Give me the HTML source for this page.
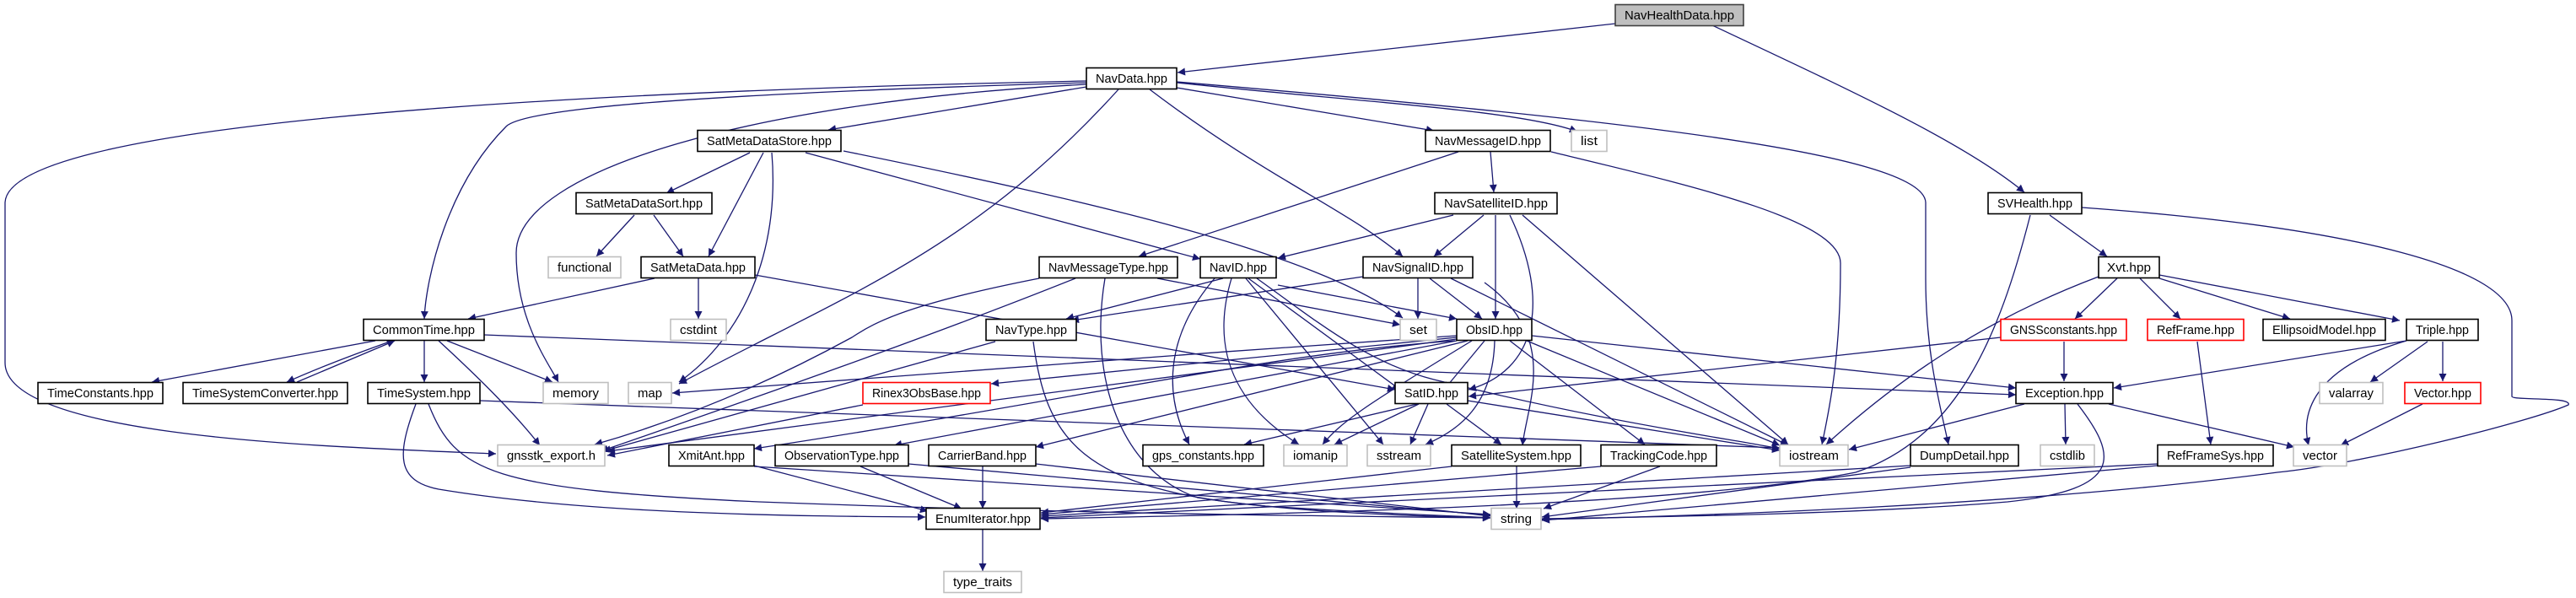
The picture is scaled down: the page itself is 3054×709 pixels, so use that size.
<!DOCTYPE html>
<html><head><meta charset="utf-8"><style>
html,body{margin:0;padding:0;background:#fff;}
svg{display:block;}
.e{fill:none;stroke:#191970;stroke-width:1.3;marker-end:url(#a);}
rect{fill:#fff;stroke:#000;stroke-width:1.6;}
rect.g{stroke:#bfbfbf;}
rect.r{stroke:#ff0000;}
text{font-family:"Liberation Sans",sans-serif;font-size:15px;text-anchor:middle;fill:#000;}
</style></head><body>
<svg width="3054" height="709" viewBox="0 0 3054 709" xmlns="http://www.w3.org/2000/svg">
<defs><marker id="a" viewBox="0 0 10 10" refX="10" refY="5" markerWidth="11" markerHeight="9" markerUnits="userSpaceOnUse" orient="auto"><path d="M0,0 L10,5 L0,10 z" fill="#191970"/></marker></defs>
<g>
<path class="e" d="M1915,28 L1396,86"/>
<path class="e" d="M2030,30 C2200,110 2330,170 2400,228"/>
<path class="e" d="M1288,96 C600,110 10,150 6,240 L6,430 C6,520 400,530 588,538"/>
<path class="e" d="M1288,98 C800,112 620,130 600,150 C530,220 505,330 503,378"/>
<path class="e" d="M1288,100 C900,120 612,200 612,300 C612,380 650,430 662,453"/>
<path class="e" d="M1288,103 L982,154"/>
<path class="e" d="M1326,106 C1150,300 1000,350 805,455"/>
<path class="e" d="M1363,106 C1500,210 1600,250 1663,304"/>
<path class="e" d="M1395,104 L1700,155"/>
<path class="e" d="M1395,98 C1600,120 1800,130 1870,156"/>
<path class="e" d="M1395,97 C1900,140 2280,180 2283,240 L2283,330 C2283,420 2300,480 2310,527"/>
<path class="e" d="M1839,180 C2000,219 2182,260 2182,312 C2182,420 2170,480 2160,527"/>
<path class="e" d="M889,181 L790,229"/>
<path class="e" d="M905,181 L840,304"/>
<path class="e" d="M915,181 C925,300 880,400 805,453"/>
<path class="e" d="M955,181 L1423,307"/>
<path class="e" d="M1000,179 C1300,240 1560,300 1663,377"/>
<path class="e" d="M752,255 L707,304"/>
<path class="e" d="M775,255 L810,304"/>
<path class="e" d="M776,330 L555,378"/>
<path class="e" d="M828,330 L828,378"/>
<path class="e" d="M895,326 L1654,462"/>
<path class="e" d="M445,404 L180,453"/>
<path class="e" d="M465,404 C420,420 380,435 340,453"/>
<path class="e" d="M352,453 L468,404"/>
<path class="e" d="M503,404 L503,453"/>
<path class="e" d="M530,404 L655,453"/>
<path class="e" d="M520,404 C570,450 610,490 640,528"/>
<path class="e" d="M574,397 L2390,468"/>
<path class="e" d="M493,479 C470,540 470,570 520,580 C700,610 950,612 1097,613"/>
<path class="e" d="M508,479 C540,560 580,580 900,595 C1300,610 1600,612 1767,614"/>
<path class="e" d="M569,475 L2110,531"/>
<path class="e" d="M1767,180 L1771,228"/>
<path class="e" d="M1729,180 L1350,304"/>
<path class="e" d="M1723,255 L1515,306"/>
<path class="e" d="M1759,255 L1700,304"/>
<path class="e" d="M1773,255 L1773,378"/>
<path class="e" d="M1790,255 C1840,360 1820,440 1741,462"/>
<path class="e" d="M1805,255 L2120,527"/>
<path class="e" d="M1616,328 L1270,380"/>
<path class="e" d="M1681,330 L1681,378"/>
<path class="e" d="M1695,330 L1757,378"/>
<path class="e" d="M1720,330 L2120,528"/>
<path class="e" d="M1760,335 C1850,400 1810,480 1805,528"/>
<path class="e" d="M1232,330 C1080,360 1040,380 1010,400 C900,460 800,500 705,527"/>
<path class="e" d="M1275,330 C1100,400 900,470 712,535"/>
<path class="e" d="M1310,330 C1290,450 1330,560 1420,590 C1550,610 1700,612 1767,614"/>
<path class="e" d="M1372,330 L1660,385"/>
<path class="e" d="M1450,330 L1264,378"/>
<path class="e" d="M1515,338 L1727,378"/>
<path class="e" d="M1480,330 L1660,462"/>
<path class="e" d="M1440,330 C1380,400 1380,470 1410,527"/>
<path class="e" d="M1460,330 C1430,430 1480,490 1540,527"/>
<path class="e" d="M1477,330 L1640,527"/>
<path class="e" d="M1490,330 C1560,380 1620,430 1700,450 C1900,500 2050,520 2110,532"/>
<path class="e" d="M1180,405 L715,535"/>
<path class="e" d="M1225,405 C1240,520 1280,580 1500,600 C1650,610 1740,612 1767,614"/>
<path class="e" d="M1727,400 L1175,455"/>
<path class="e" d="M1760,404 L1712,462"/>
<path class="e" d="M1745,404 C1620,480 1590,500 1568,527"/>
<path class="e" d="M1772,404 C1770,480 1730,510 1690,527"/>
<path class="e" d="M1790,404 L1950,527"/>
<path class="e" d="M1816,398 L2390,460"/>
<path class="e" d="M1810,404 L2110,528"/>
<path class="e" d="M1727,402 L720,535"/>
<path class="e" d="M1727,398 C1400,420 1000,450 797,466"/>
<path class="e" d="M1740,404 L1228,530"/>
<path class="e" d="M1727,404 L1060,528"/>
<path class="e" d="M1725,404 C1500,420 1300,470 894,532"/>
<path class="e" d="M1680,479 L1475,527"/>
<path class="e" d="M1682,479 L1582,527"/>
<path class="e" d="M1693,479 L1672,527"/>
<path class="e" d="M1715,479 L1780,527"/>
<path class="e" d="M1740,475 L2110,534"/>
<path class="e" d="M1023,480 L720,540"/>
<path class="e" d="M894,552 L1100,606"/>
<path class="e" d="M894,553 L1767,610"/>
<path class="e" d="M1020,553 L1140,603"/>
<path class="e" d="M1077,550 L1767,611"/>
<path class="e" d="M1165,553 L1165,603"/>
<path class="e" d="M1228,550 L1767,612"/>
<path class="e" d="M1798,553 L1798,603"/>
<path class="e" d="M1721,553 L1234,608"/>
<path class="e" d="M1968,553 L1830,603"/>
<path class="e" d="M1898,553 L1234,610"/>
<path class="e" d="M1165,628 L1165,677"/>
<path class="e" d="M2265,552 L1234,612"/>
<path class="e" d="M2265,554 L1828,613"/>
<path class="e" d="M2400,479 L2192,533"/>
<path class="e" d="M2448,479 L2449,527"/>
<path class="e" d="M2500,479 L2720,530"/>
<path class="e" d="M2463,479 C2510,540 2520,580 2380,595 C2200,610 1950,613 1828,615"/>
<path class="e" d="M2558,552 L1828,617"/>
<path class="e" d="M2558,550 L1234,614"/>
<path class="e" d="M2430,255 L2498,304"/>
<path class="e" d="M2407,255 C2370,400 2320,520 2200,560 C2000,600 1500,610 1234,615"/>
<path class="e" d="M2468,246 C2800,270 2978,320 2978,380 L2978,470 C2978,475 3050,470 3045,480 C3000,500 2800,550 2700,560 C2400,600 2000,612 1828,616"/>
<path class="e" d="M2510,330 L2460,378"/>
<path class="e" d="M2537,330 L2585,378"/>
<path class="e" d="M2560,330 L2715,378"/>
<path class="e" d="M2560,326 L2845,380"/>
<path class="e" d="M2488,328 C2350,380 2250,450 2165,527"/>
<path class="e" d="M2447,405 L2447,452"/>
<path class="e" d="M2372,400 L1741,470"/>
<path class="e" d="M2605,405 L2621,527"/>
<path class="e" d="M2853,404 L2506,460"/>
<path class="e" d="M2853,404 C2730,440 2730,500 2737,528"/>
<path class="e" d="M2878,405 L2810,453"/>
<path class="e" d="M2896,405 L2896,452"/>
<path class="e" d="M2872,479 L2775,528"/>
</g>
<g>
<rect x="1915" y="5.5" width="152" height="25" style="fill:#bfbfbf;stroke:#404040"/><text x="1991" y="23" textLength="130" lengthAdjust="spacingAndGlyphs">NavHealthData.hpp</text>
<rect x="1288" y="80.5" width="107" height="25"/><text x="1341.5" y="98" textLength="85" lengthAdjust="spacingAndGlyphs">NavData.hpp</text>
<rect x="827" y="154.5" width="170" height="25"/><text x="912" y="172" textLength="148" lengthAdjust="spacingAndGlyphs">SatMetaDataStore.hpp</text>
<rect x="1690" y="154.5" width="148" height="25"/><text x="1764" y="172" textLength="126" lengthAdjust="spacingAndGlyphs">NavMessageID.hpp</text>
<rect class="g" x="1863" y="154.5" width="42" height="25"/><text x="1884" y="172" textLength="20" lengthAdjust="spacingAndGlyphs">list</text>
<rect x="683" y="228.5" width="161" height="25"/><text x="763.5" y="246" textLength="139" lengthAdjust="spacingAndGlyphs">SatMetaDataSort.hpp</text>
<rect x="1701" y="228.5" width="145" height="25"/><text x="1773.5" y="246" textLength="123" lengthAdjust="spacingAndGlyphs">NavSatelliteID.hpp</text>
<rect x="2357" y="228.5" width="111" height="25"/><text x="2412.5" y="246" textLength="89" lengthAdjust="spacingAndGlyphs">SVHealth.hpp</text>
<rect class="g" x="650" y="304.5" width="86" height="25"/><text x="693" y="322" textLength="64" lengthAdjust="spacingAndGlyphs">functional</text>
<rect x="760" y="304.5" width="135" height="25"/><text x="827.5" y="322" textLength="113" lengthAdjust="spacingAndGlyphs">SatMetaData.hpp</text>
<rect x="1232" y="304.5" width="164" height="25"/><text x="1314" y="322" textLength="142" lengthAdjust="spacingAndGlyphs">NavMessageType.hpp</text>
<rect x="1423" y="304.5" width="90" height="25"/><text x="1468" y="322" textLength="68" lengthAdjust="spacingAndGlyphs">NavID.hpp</text>
<rect x="1616" y="304.5" width="130" height="25"/><text x="1681" y="322" textLength="108" lengthAdjust="spacingAndGlyphs">NavSignalID.hpp</text>
<rect x="2488" y="304.5" width="72" height="25"/><text x="2524" y="322" textLength="52" lengthAdjust="spacingAndGlyphs">Xvt.hpp</text>
<rect x="431" y="378.5" width="143" height="25"/><text x="502.5" y="396" textLength="121" lengthAdjust="spacingAndGlyphs">CommonTime.hpp</text>
<rect class="g" x="795" y="378.5" width="66" height="25"/><text x="828" y="396" textLength="44" lengthAdjust="spacingAndGlyphs">cstdint</text>
<rect x="1169" y="378.5" width="107" height="25"/><text x="1222.5" y="396" textLength="85" lengthAdjust="spacingAndGlyphs">NavType.hpp</text>
<rect class="g" x="1660" y="378.5" width="43" height="25"/><text x="1681.5" y="396" textLength="21" lengthAdjust="spacingAndGlyphs">set</text>
<rect x="1727" y="378.5" width="89" height="25"/><text x="1771.5" y="396" textLength="67" lengthAdjust="spacingAndGlyphs">ObsID.hpp</text>
<rect class="r" x="2372" y="378.5" width="149" height="25"/><text x="2446.5" y="396" textLength="127" lengthAdjust="spacingAndGlyphs">GNSSconstants.hpp</text>
<rect class="r" x="2546" y="378.5" width="114" height="25"/><text x="2603" y="396" textLength="92" lengthAdjust="spacingAndGlyphs">RefFrame.hpp</text>
<rect x="2683" y="378.5" width="145" height="25"/><text x="2755.5" y="396" textLength="123" lengthAdjust="spacingAndGlyphs">EllipsoidModel.hpp</text>
<rect x="2853" y="378.5" width="85" height="25"/><text x="2895.5" y="396" textLength="63" lengthAdjust="spacingAndGlyphs">Triple.hpp</text>
<rect x="45" y="453.5" width="148" height="25"/><text x="119" y="471" textLength="126" lengthAdjust="spacingAndGlyphs">TimeConstants.hpp</text>
<rect x="217" y="453.5" width="195" height="25"/><text x="314.5" y="471" textLength="173" lengthAdjust="spacingAndGlyphs">TimeSystemConverter.hpp</text>
<rect x="436" y="453.5" width="133" height="25"/><text x="502.5" y="471" textLength="111" lengthAdjust="spacingAndGlyphs">TimeSystem.hpp</text>
<rect class="g" x="644" y="453.5" width="77" height="25"/><text x="682.5" y="471" textLength="55" lengthAdjust="spacingAndGlyphs">memory</text>
<rect class="g" x="745" y="453.5" width="51" height="25"/><text x="770.5" y="471" textLength="29" lengthAdjust="spacingAndGlyphs">map</text>
<rect class="r" x="1023" y="453.5" width="151" height="25"/><text x="1098.5" y="471" textLength="129" lengthAdjust="spacingAndGlyphs">Rinex3ObsBase.hpp</text>
<rect x="1654" y="453.5" width="86" height="25"/><text x="1697" y="471" textLength="64" lengthAdjust="spacingAndGlyphs">SatID.hpp</text>
<rect x="2390" y="453.5" width="115" height="25"/><text x="2447.5" y="471" textLength="93" lengthAdjust="spacingAndGlyphs">Exception.hpp</text>
<rect class="g" x="2750" y="453.5" width="75" height="25"/><text x="2787.5" y="471" textLength="53" lengthAdjust="spacingAndGlyphs">valarray</text>
<rect class="r" x="2851" y="453.5" width="90" height="25"/><text x="2896" y="471" textLength="68" lengthAdjust="spacingAndGlyphs">Vector.hpp</text>
<rect class="g" x="590" y="527.5" width="127" height="25"/><text x="653.5" y="545" textLength="105" lengthAdjust="spacingAndGlyphs">gnsstk_export.h</text>
<rect x="793" y="527.5" width="101" height="25"/><text x="843.5" y="545" textLength="79" lengthAdjust="spacingAndGlyphs">XmitAnt.hpp</text>
<rect x="919" y="527.5" width="158" height="25"/><text x="998" y="545" textLength="136" lengthAdjust="spacingAndGlyphs">ObservationType.hpp</text>
<rect x="1101" y="527.5" width="127" height="25"/><text x="1164.5" y="545" textLength="105" lengthAdjust="spacingAndGlyphs">CarrierBand.hpp</text>
<rect x="1355" y="527.5" width="143" height="25"/><text x="1426.5" y="545" textLength="121" lengthAdjust="spacingAndGlyphs">gps_constants.hpp</text>
<rect class="g" x="1522" y="527.5" width="75" height="25"/><text x="1559.5" y="545" textLength="53" lengthAdjust="spacingAndGlyphs">iomanip</text>
<rect class="g" x="1621" y="527.5" width="75" height="25"/><text x="1658.5" y="545" textLength="53" lengthAdjust="spacingAndGlyphs">sstream</text>
<rect x="1721" y="527.5" width="153" height="25"/><text x="1797.5" y="545" textLength="131" lengthAdjust="spacingAndGlyphs">SatelliteSystem.hpp</text>
<rect x="1898" y="527.5" width="137" height="25"/><text x="1966.5" y="545" textLength="115" lengthAdjust="spacingAndGlyphs">TrackingCode.hpp</text>
<rect class="g" x="2110" y="527.5" width="81" height="25"/><text x="2150.5" y="545" textLength="59" lengthAdjust="spacingAndGlyphs">iostream</text>
<rect x="2265" y="527.5" width="128" height="25"/><text x="2329" y="545" textLength="106" lengthAdjust="spacingAndGlyphs">DumpDetail.hpp</text>
<rect class="g" x="2419" y="527.5" width="64" height="25"/><text x="2451" y="545" textLength="42" lengthAdjust="spacingAndGlyphs">cstdlib</text>
<rect x="2558" y="527.5" width="137" height="25"/><text x="2626.5" y="545" textLength="115" lengthAdjust="spacingAndGlyphs">RefFrameSys.hpp</text>
<rect class="g" x="2719" y="527.5" width="63" height="25"/><text x="2750.5" y="545" textLength="41" lengthAdjust="spacingAndGlyphs">vector</text>
<rect x="1098" y="602.5" width="135" height="25"/><text x="1165.5" y="620" textLength="113" lengthAdjust="spacingAndGlyphs">EnumIterator.hpp</text>
<rect class="g" x="1768" y="602.5" width="59" height="25"/><text x="1797.5" y="620" textLength="37" lengthAdjust="spacingAndGlyphs">string</text>
<rect class="g" x="1119" y="677.5" width="92" height="25"/><text x="1165" y="695" textLength="70" lengthAdjust="spacingAndGlyphs">type_traits</text>
</g>
</svg>
</body></html>
